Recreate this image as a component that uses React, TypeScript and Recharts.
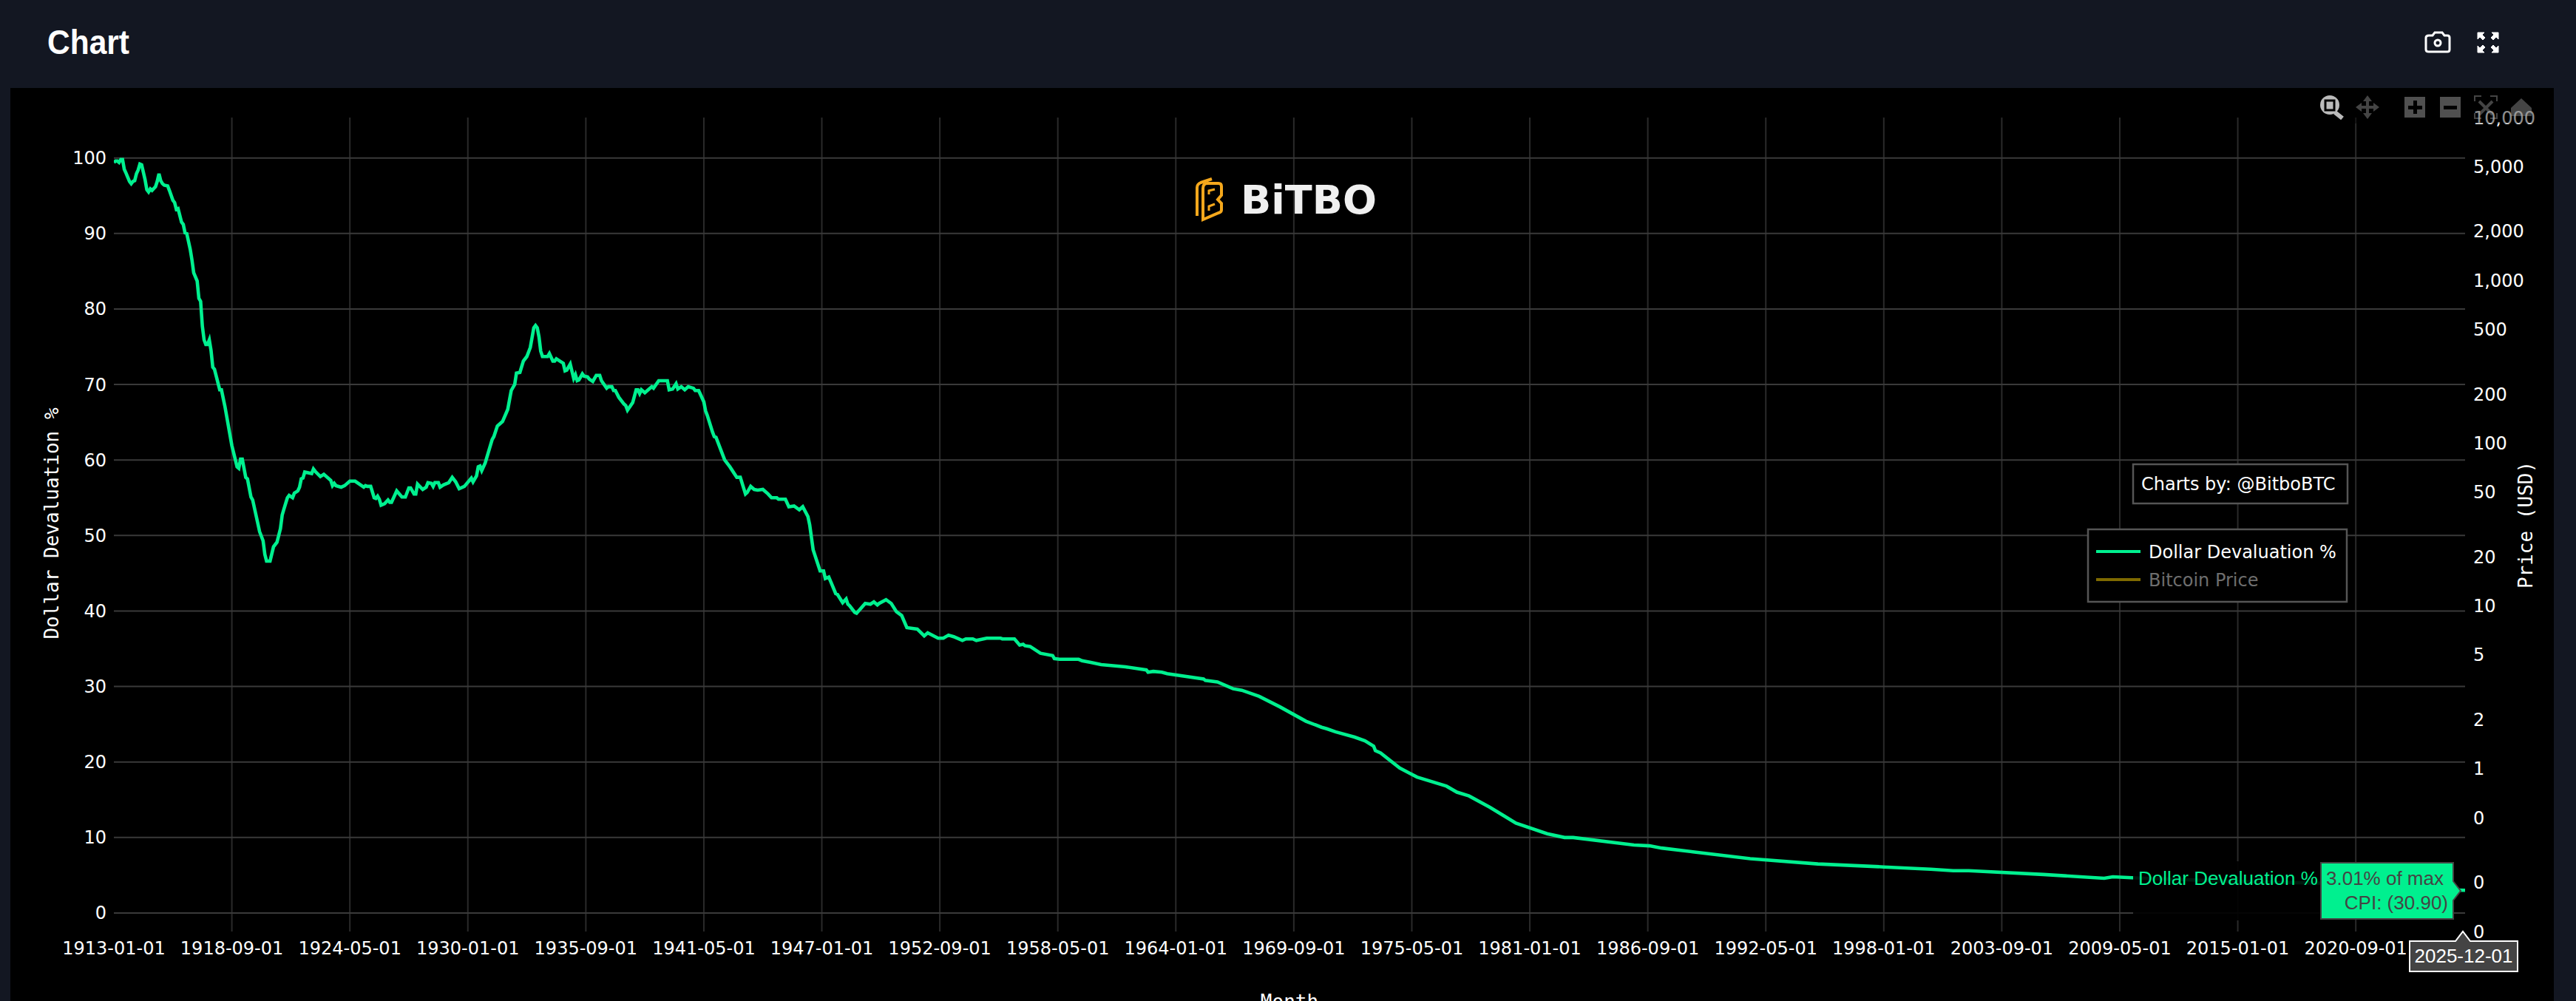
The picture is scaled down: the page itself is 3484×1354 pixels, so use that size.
import React from "react";
import { LineChart, Line, XAxis, YAxis, CartesianGrid } from "recharts";

// months since 1913-01
const months = [
  0, 1, 2, 3, 4, 5, 6, 7, 9, 10,
  11, 12, 13, 14, 15, 16, 17, 18, 19, 20,
  21, 22, 24, 25, 26, 27, 28, 29, 31, 32,
  34, 35, 36, 37, 39, 40, 41, 42, 44, 45,
  46, 48, 49, 50, 51, 52, 53, 54, 55, 56,
  57, 58, 61, 62, 64, 68, 71, 72, 73, 74,
  76, 77, 79, 80, 84, 86, 87, 88, 90, 92,
  94, 96, 97, 98, 100, 101, 103, 104, 106, 107,
  108, 109, 110, 114, 115, 116, 119, 121, 125, 126,
  127, 128, 131, 133, 136, 139, 144, 145, 146, 148,
  150, 151, 152, 153, 154, 156, 158, 159, 160, 163,
  166, 168, 170, 171, 173, 174, 175, 178, 180, 181,
  183, 184, 185, 187, 188, 190, 193, 195, 197, 199,
  202, 206, 207, 209, 210, 211, 212, 214, 218, 219,
  221, 222, 224, 227, 229, 231, 232, 234, 236, 238,
  240, 242, 243, 244, 245, 246, 247, 250, 251, 253,
  254, 255, 257, 259, 260, 261, 263, 265, 266, 267,
  268, 270, 271, 273, 274, 276, 278, 280, 281, 284,
  285, 287, 288, 289, 291, 294, 295, 296, 299, 301,
  302, 303, 304, 306, 310, 311, 314, 319, 320, 322,
  324, 325, 327, 329, 331, 334, 335, 337, 338, 340,
  341, 342, 345, 346, 347, 352, 355, 359, 361, 364,
  365, 367, 369, 371, 374, 377, 379, 382, 383, 387,
  389, 392, 395, 397, 400, 401, 403, 407, 409, 410,
  412, 414, 416, 417, 420, 422, 423, 424, 427, 428,
  433, 436, 438, 440, 441, 445, 448, 451, 454, 457,
  463, 467, 469, 475, 478, 481, 484, 489, 491, 495,
  497, 503, 511, 512, 519, 522, 524, 525, 528, 534,
  541, 542, 545, 556, 558, 563, 569, 583, 595, 596,
  599, 604, 607, 628, 629, 636, 645, 650, 660, 672,
  687, 696, 699, 704, 715, 721, 726, 727, 730, 741,
  746, 751, 768, 774, 781, 793, 808, 826, 836, 841,
  876, 885, 892, 910, 943, 982, 1020, 1047, 1060, 1069,
  1112, 1147, 1152, 1165, 1220, 1272, 1300, 1340, 1355,
];

const devaluationPct = [
  99.4, 99.6, 99.6, 99.4, 99.8, 99.8, 98.5, 98.0, 96.9, 96.6,
  96.9, 97.0, 97.9, 98.4, 99.2, 99.1, 98.1, 97.1, 95.8, 95.5,
  95.9, 95.7, 96.2, 96.9, 97.9, 97.0, 96.6, 96.4, 96.3, 95.7,
  94.4, 94.1, 93.2, 93.3, 91.5, 91.2, 90.1, 90.0, 87.9, 86.5,
  84.8, 83.7, 81.4, 81.0, 77.7, 75.9, 75.3, 75.3, 75.9, 74.5,
  72.3, 72.0, 69.3, 69.3, 67.1, 61.9, 59.1, 58.9, 60.1, 60.1,
  57.7, 57.5, 55.1, 54.7, 50.5, 49.3, 47.5, 46.6, 46.6, 48.5,
  49.1, 50.9, 52.7, 53.5, 55.0, 55.3, 55.0, 55.6, 55.9, 56.4,
  57.5, 57.6, 58.4, 58.2, 58.8, 58.5, 57.8, 58.1, 57.3, 56.6,
  56.9, 56.6, 56.4, 56.6, 57.2, 57.2, 56.4, 56.6, 56.5, 56.5,
  55.0, 54.9, 55.2, 54.8, 54.0, 54.2, 54.7, 54.4, 54.4, 55.9,
  55.1, 55.1, 56.3, 56.3, 55.5, 55.5, 56.8, 56.1, 56.4, 57.0,
  56.9, 56.5, 57.0, 57.0, 56.4, 56.7, 57.0, 57.7, 57.1, 56.2,
  56.5, 57.6, 57.1, 57.9, 59.1, 59.2, 58.6, 59.6, 62.7, 63.1,
  64.5, 64.7, 65.1, 66.7, 69.2, 70.0, 71.5, 71.6, 73.1, 73.7,
  74.9, 77.5, 77.8, 77.5, 76.3, 74.4, 73.7, 73.7, 74.1, 73.1,
  73.1, 73.4, 73.1, 72.8, 71.8, 71.9, 72.7, 70.8, 71.3, 70.5,
  70.6, 71.4, 71.1, 71.0, 70.7, 70.4, 71.2, 71.2, 70.5, 69.5,
  69.7, 69.7, 69.2, 69.2, 68.3, 67.4, 67.2, 66.6, 67.6, 69.3,
  69.3, 68.8, 69.3, 68.9, 69.7, 69.5, 70.5, 70.5, 69.3, 69.4,
  70.1, 69.4, 69.7, 69.3, 69.7, 69.5, 69.2, 69.2, 68.7, 67.7,
  66.5, 65.9, 63.7, 63.1, 63.0, 60.0, 59.1, 57.7, 57.7, 55.5,
  55.7, 56.5, 56.1, 56.0, 56.1, 55.5, 55.0, 55.0, 54.8, 54.8,
  53.8, 53.9, 53.4, 53.8, 52.5, 51.4, 48.1, 45.3, 45.3, 44.3,
  44.5, 43.4, 42.3, 42.2, 41.1, 41.6, 40.9, 40.7, 39.8, 39.7,
  41.0, 40.9, 41.2, 40.8, 41.0, 41.5, 41.0, 39.9, 39.4, 37.8,
  37.6, 36.7, 37.1, 36.4, 36.4, 36.8, 36.6, 36.1, 36.3, 36.3,
  36.1, 36.4, 36.4, 36.3, 36.3, 35.5, 35.6, 35.4, 35.3, 34.4,
  34.1, 33.7, 33.6, 33.6, 33.4, 33.2, 32.9, 32.6, 32.2, 31.9,
  32.0, 31.9, 31.7, 31.0, 30.8, 30.6, 29.7, 29.5, 28.7, 27.3,
  25.4, 24.6, 24.4, 24.0, 23.3, 22.8, 22.1, 21.5, 21.2, 19.2,
  18.6, 18.0, 16.8, 16.0, 15.5, 14.0, 11.9, 10.5, 10.0, 10.0,
  9.0, 8.9, 8.6, 8.1, 7.2, 6.5, 6.1, 5.8, 5.6, 5.6,
  5.1, 4.6, 4.8, 4.65, 4.2, 3.95, 3.7, 3.1, 3.01,
];

const xTickMonths = [0, 68, 136, 204, 272, 340, 408, 476, 544, 612, 680, 748, 816, 884, 952, 1020, 1088, 1156, 1224, 1292];
const xTickLabels = [
  "1913-01-01", "1918-09-01", "1924-05-01", "1930-01-01", "1935-09-01",
  "1941-05-01", "1947-01-01", "1952-09-01", "1958-05-01", "1964-01-01",
  "1969-09-01", "1975-05-01", "1981-01-01", "1986-09-01", "1992-05-01",
  "1998-01-01", "2003-09-01", "2009-05-01", "2015-01-01", "2020-09-01",
];
const leftTicks = [0, 10, 20, 30, 40, 50, 60, 70, 80, 90, 100];
const rightTicks = [0.1, 0.2, 0.5, 1, 2, 5, 10, 20, 50, 100, 200, 500, 1000, 2000, 5000, 10000];

const rows = months.map((month, i) => ({ month, value: devaluationPct[i] }));

const GREEN = "#00F08F";
const SANS = "'DejaVu Sans', sans-serif";
const ARIAL = "'Liberation Sans', sans-serif";
const MONO = "'DejaVu Sans Mono', monospace";

function Overlay() {
  return (
    <svg width={3484} height={1354} style={{ position: "absolute", left: 0, top: 0, pointerEvents: "none" }}>
      {/* header */}
      <text x={64} y={73} fill="#fff" fontFamily={ARIAL} fontWeight={700} fontSize={46} textLength={111} lengthAdjust="spacingAndGlyphs">Chart</text>
      {/* camera */}
      <g fill="none" stroke="#fff" strokeWidth={3}>
        <path d="M3281 51 Q3281 48 3285 48 L3290 48 L3293 44 L3303 44 L3306 48 L3310 48 Q3313 48 3313 51 L3313 67 Q3313 70 3310 70 L3285 70 Q3281 70 3281 67 Z" />
        <circle cx={3297} cy={58} r={4} />
      </g>
      {/* expand */}
      <g fill="#fff" stroke="#fff" strokeWidth={1}>
        <path d="M3351 44 L3360 44 L3357 47 L3361 51 L3358 54 L3354 50 L3351 53 Z" />
        <path d="M3379 44 L3370 44 L3373 47 L3369 51 L3372 54 L3376 50 L3379 53 Z" />
        <path d="M3351 71 L3360 71 L3357 68 L3361 64 L3358 61 L3354 65 L3351 62 Z" />
        <path d="M3379 71 L3370 71 L3373 68 L3369 64 L3372 61 L3376 65 L3379 62 Z" />
      </g>
      {/* modebar */}
      <rect x={3130} y={125} width={304} height={42} fill="#000" opacity={0.45} />
      <g>
        <circle cx={3151} cy={142} r={13} fill="#bbb" />
        <rect x={3145} y={136} width={12} height={13} fill="#bbb" stroke="#000" strokeWidth={3} />
        <path d="M3158 152 L3168 160" stroke="#bbb" strokeWidth={6} />
        <path d="M3202 129 L3208 137 L3204 137 L3204 143 L3210 143 L3210 139 L3218 145 L3210 151 L3210 147 L3204 147 L3204 153 L3208 153 L3202 161 L3196 153 L3200 153 L3200 147 L3194 147 L3194 151 L3186 145 L3194 139 L3194 143 L3200 143 L3200 137 L3196 137 Z" fill="#444" />
        <rect x={3252} y={131} width={28} height={28} fill="#505050" />
        <rect x={3264} y={136} width={5} height={18} fill="#000" />
        <rect x={3257} y={143} width={19} height={5} fill="#000" />
        <rect x={3300} y={131} width={28} height={28} fill="#505050" />
        <rect x={3305} y={143} width={18} height={5} fill="#000" />
        <g opacity={0.4}>
          <path d="M3347 137 L3347 130 L3356 130 M3368 130 L3377 130 L3377 137 M3347 153 L3347 160 L3356 160 M3368 160 L3377 160 L3377 153" fill="none" stroke="#aaa" strokeWidth={2} />
          <path d="M3353 137 L3371 155 M3371 137 L3353 155" stroke="#aaa" strokeWidth={4} />
          <path d="M3396 146 L3410 133 L3424 146 L3424 157 L3396 157 Z" fill="#aaa" />
        </g>
      </g>
      {/* logo */}
      <g fill="none" stroke="#F5A81C" strokeWidth={4}>
        <path d="M1619 292 L1619 254 Q1619 249 1624 247 L1639 242" />
        <path d="M1627 297 L1627 255 Q1627 248 1633 248 L1648 248 Q1652 248 1652 252 L1652 264 L1647 270 L1652 275 L1652 284 Q1652 287 1648 288 Z" />
        <path d="M1635 263 L1635 258 L1643 256" strokeWidth={3} />
        <path d="M1635 285 L1635 279 L1643 276" strokeWidth={3} />
      </g>
      <text x={1678} y={289} fill="#F0F0F0" fontFamily={SANS} fontWeight={700} fontSize={53} textLength={184} lengthAdjust="spacingAndGlyphs">BiTBO</text>
      {/* axis titles */}
      <text transform="translate(79 708) rotate(-90)" textAnchor="middle" fill="#fff" fontFamily={MONO} fontSize={26}>Dollar Devaluation %</text>
      <text transform="translate(3425 710) rotate(-90)" textAnchor="middle" fill="#fff" fontFamily={MONO} fontSize={26}>Price (USD)</text>
      <text x={1744} y={1364} textAnchor="middle" fill="#fff" fontFamily={MONO} fontSize={26}>Month</text>
      {/* credit */}
      <rect x={2885} y={628} width={290} height={53} fill="#000" stroke="#555" strokeWidth={2.5} />
      <text x={2896} y={663} fill="#fff" fontFamily={SANS} fontSize={24}>Charts by: @BitboBTC</text>
      {/* legend */}
      <rect x={2824} y={716} width={350} height={98} fill="#000" stroke="#555" strokeWidth={2.5} />
      <path d="M2835 746 L2895 746" stroke={GREEN} strokeWidth={4} />
      <text x={2906} y={755} fill="#fff" fontFamily={SANS} fontSize={24}>Dollar Devaluation %</text>
      <path d="M2835 784 L2895 784" stroke="#7F6A00" strokeWidth={4} />
      <text x={2906} y={793} fill="#6E6E6E" fontFamily={SANS} fontSize={24}>Bitcoin Price</text>
      {/* hover labels */}
      <rect x={2885} y={1165} width={254} height={80} fill="#000" opacity={0.9} />
      <text x={2892} y={1197} fill={GREEN} fontFamily={ARIAL} fontSize={26}>Dollar Devaluation %</text>
      <path d="M3139 1167 L3318 1167 L3318 1192 L3328 1205 L3318 1218 L3318 1243 L3139 1243 Z" fill={GREEN} stroke="#444" strokeWidth={2} />
      <text x={3146} y={1197} fill="#444" fontFamily={ARIAL} fontSize={26}>3.01% of max</text>
      <text x={3311} y={1230} textAnchor="end" fill="#444" fontFamily={ARIAL} fontSize={26}>CPI: (30.90)</text>
      <path d="M3259 1273 L3321 1273 L3331 1260 L 3341 1273 L3405 1273 L3405 1314 L3259 1314 Z" fill="#444" stroke="#fff" strokeWidth={2} />
      <text x={3332} y={1302} textAnchor="middle" fill="#fff" fontFamily={ARIAL} fontSize={26}>2025-12-01</text>
    </svg>
  );
}

export default function App() {
  const tickStyle = { fill: "#fff", fontFamily: SANS, fontSize: 24 };
  return (
    <div style={{ position: "absolute", left: 0, top: 0, width: 3484, height: 1354, background: "#131722", overflow: "hidden" }}>
      <div style={{ position: "absolute", left: 14, top: 119, width: 3440, height: 1235, background: "#000" }} />
      <div style={{ position: "absolute", left: 0, top: 0 }}>
        <LineChart width={3484} height={1354} data={rows} margin={{ top: 159, right: 0, bottom: 0, left: 0 }}>
          <CartesianGrid horizontal={false} vertical stroke="#2A2A2A" strokeWidth={2} verticalValues={xTickMonths.slice(1)} xAxisId={0} yAxisId="left" />
          <CartesianGrid vertical={false} horizontal stroke="#3A3A3A" strokeWidth={2} horizontalValues={leftTicks} xAxisId={0} yAxisId="left" />
          <XAxis
            xAxisId={0}
            dataKey="month"
            type="number"
            domain={[0, 1355]}
            ticks={xTickMonths}
            interval={0}
            height={94}
            tickLine={false}
            tickSize={0}
            tickMargin={14}
            axisLine={false}
            tick={tickStyle}
            allowDataOverflow
            tickFormatter={(m: number) => xTickLabels[xTickMonths.indexOf(m)]}
          />
          <YAxis
            yAxisId="left"
            orientation="left"
            width={154}
            domain={[-2.45, 105.35]}
            ticks={leftTicks}
            interval={0}
            tickLine={false}
            tickSize={0}
            tickMargin={10}
            axisLine={false}
            tick={tickStyle}
            allowDataOverflow
          />
          <YAxis
            yAxisId="right"
            orientation="right"
            width={150}
            scale="log"
            domain={[0.1, 10000]}
            ticks={rightTicks}
            interval={0}
            tickLine={false}
            tickSize={0}
            tickMargin={11}
            axisLine={false}
            tick={tickStyle}
            allowDataOverflow
            tickFormatter={(v: number) => (v < 1 ? "0" : v.toLocaleString("en-US"))}
          />
          <Line yAxisId="left" xAxisId={0} dataKey="value" type="linear" stroke={GREEN} strokeWidth={4.6} dot={false} activeDot={false} isAnimationActive={false} />
        </LineChart>
      </div>
      <Overlay />
    </div>
  );
}
